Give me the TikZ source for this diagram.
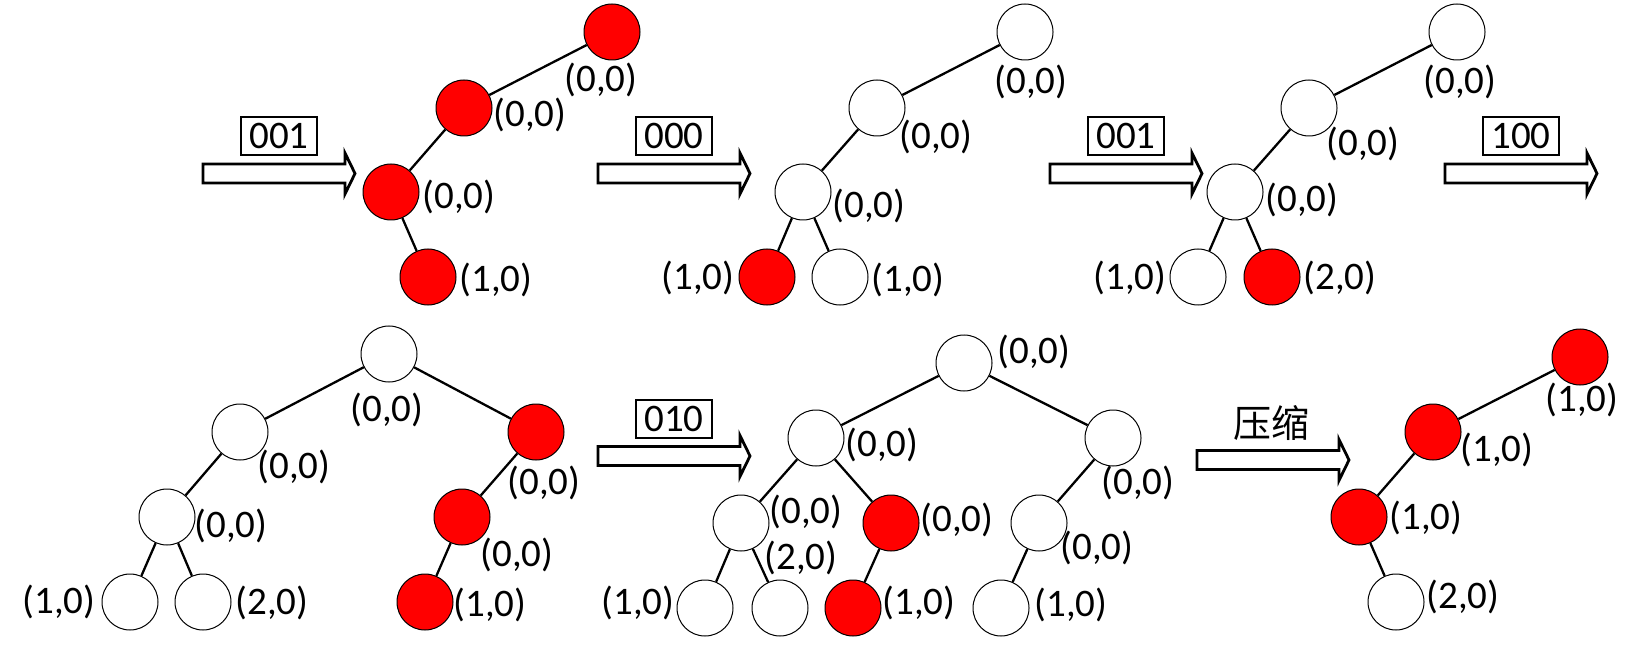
\documentclass[tikz,border=0pt]{standalone}
\usepackage{fontspec}
\setmainfont{Carlito}
\newfontfamily\cjkfont{Noto Sans CJK SC}
\newcommand\fatarrow[2]{%
  \draw[fat] ({#1},{#2-9.5}) -- ++(142,0) -- ++(0,-11) -- ++(10,20.5) -- ++(-10,20.5) -- ++(0,-11) -- ++(-142,0) -- cycle;}
\begin{document}
\begin{tikzpicture}[x=1pt,y=-1pt,
  nd/.style={circle, draw=black, line width=1pt, minimum size=56pt, inner sep=0pt, fill=white},
  rd/.style={nd, fill=red},
  lab/.style={inner sep=0pt, font=\fontsize{39}{42}\selectfont},
  edge/.style={line width=2.3pt},
  codebox/.style={draw, line width=1.4pt, minimum width=76pt, minimum height=38pt, inner sep=0pt, font=\fontsize{39}{42}\selectfont},
  fat/.style={draw, line width=2.8pt, fill=white, line join=miter}]
\useasboundingbox (0,0) rectangle (1646,652);
\fill[white] (0,0) rectangle (1646,652);

% ---------- arrows ----------
\fatarrow{203}{173.5}
\node[codebox] (c1) at (279,136) {001};
\fatarrow{598}{173.5}
\node[codebox] (c2) at (674,136) {000};
\fatarrow{1050}{173.5}
\node[codebox] (c3) at (1126,136) {001};
\fatarrow{1445}{173.5}
\node[codebox] (c4) at (1521,136) {100};
\fatarrow{598}{456}
\node[codebox] (c5) at (674,419) {010};
\fatarrow{1197}{460}
\node[inner sep=0pt, font=\fontsize{38}{40}\selectfont] (c6) at (1271,423) {\cjkfont 压缩};

% ---------- tree 1 ----------
\node[rd] (t1a) at (612,32) {};
\node[rd] (t1b) at (464,108) {};
\node[rd] (t1c) at (391,192) {};
\node[rd] (t1d) at (428,277) {};
\draw[edge] (t1a) -- (t1b); \draw[edge] (t1b) -- (t1c); \draw[edge] (t1c) -- (t1d);
\node[lab] (l1a) at (601,80) {(0,0)};
\node[lab] (l1b) at (530,115) {(0,0)};
\node[lab] (l1c) at (459,197) {(0,0)};
\node[lab] (l1d) at (496,280) {(1,0)};

% ---------- tree 2 ----------
\node[nd] (t2a) at (1025,32) {};
\node[nd] (t2b) at (877,108) {};
\node[nd] (t2c) at (803,192) {};
\node[rd] (t2d) at (767,277) {};
\node[nd] (t2e) at (840,277) {};
\draw[edge] (t2a) -- (t2b); \draw[edge] (t2b) -- (t2c);
\draw[edge] (t2c) -- (t2d); \draw[edge] (t2c) -- (t2e);
\node[lab] (l2a) at (1031,82) {(0,0)};
\node[lab] (l2b) at (936,137) {(0,0)};
\node[lab] (l2c) at (869,206) {(0,0)};
\node[lab] (l2d) at (698,278) {(1,0)};
\node[lab] (l2e) at (908,280) {(1,0)};

% ---------- tree 3 ----------
\node[nd] (t3a) at (1457,32) {};
\node[nd] (t3b) at (1309,108) {};
\node[nd] (t3c) at (1235,192) {};
\node[nd] (t3d) at (1198,277) {};
\node[rd] (t3e) at (1272,277) {};
\draw[edge] (t3a) -- (t3b); \draw[edge] (t3b) -- (t3c);
\draw[edge] (t3c) -- (t3d); \draw[edge] (t3c) -- (t3e);
\node[lab] (l3a) at (1460,82) {(0,0)};
\node[lab] (l3b) at (1363,144) {(0,0)};
\node[lab] (l3c) at (1302,200) {(0,0)};
\node[lab] (l3d) at (1130,278) {(1,0)};
\node[lab] (l3e) at (1340,278) {(2,0)};

% ---------- tree 4 ----------
\node[nd] (t4r) at (389,354) {};
\node[nd] (t4l1) at (240,432) {};
\node[nd] (t4l2) at (167,517) {};
\node[nd] (t4ll) at (130,602) {};
\node[nd] (t4lr) at (203,602) {};
\node[rd] (t4r1) at (536,432) {};
\node[rd] (t4r2) at (462,517) {};
\node[rd] (t4r3) at (425,602) {};
\draw[edge] (t4r) -- (t4l1); \draw[edge] (t4l1) -- (t4l2);
\draw[edge] (t4l2) -- (t4ll); \draw[edge] (t4l2) -- (t4lr);
\draw[edge] (t4r) -- (t4r1); \draw[edge] (t4r1) -- (t4r2); \draw[edge] (t4r2) -- (t4r3);
\node[lab] (l4r) at (387,410) {(0,0)};
\node[lab] (l4l1) at (294,467) {(0,0)};
\node[lab] (l4l2) at (231,526) {(0,0)};
\node[lab] (l4ll) at (59,602) {(1,0)};
\node[lab] (l4lr) at (272,603) {(2,0)};
\node[lab] (l4r1) at (544,483) {(0,0)};
\node[lab] (l4r2) at (517,555) {(0,0)};
\node[lab] (l4r3) at (490,605) {(1,0)};

% ---------- tree 5 ----------
\node[nd] (t5r) at (964,363) {};
\node[nd] (t5l1) at (816,438) {};
\node[nd] (t5r1) at (1113,438) {};
\node[nd] (t5ll) at (741,523) {};
\node[rd] (t5lr) at (891,523) {};
\node[nd] (t5rl) at (1039,523) {};
\node[nd] (t5lll) at (705,608) {};
\node[nd] (t5llr) at (780,608) {};
\node[rd] (t5lrl) at (853,608) {};
\node[nd] (t5rll) at (1001,608) {};
\draw[edge] (t5r) -- (t5l1); \draw[edge] (t5r) -- (t5r1);
\draw[edge] (t5l1) -- (t5ll); \draw[edge] (t5l1) -- (t5lr);
\draw[edge] (t5ll) -- (t5lll); \draw[edge] (t5ll) -- (t5llr);
\draw[edge] (t5lr) -- (t5lrl);
\draw[edge] (t5r1) -- (t5rl); \draw[edge] (t5rl) -- (t5rll);
\node[lab] (l5r) at (1034,352) {(0,0)};
\node[lab] (l5l1) at (882,445) {(0,0)};
\node[lab] (l5r1) at (1138,483) {(0,0)};
\node[lab] (l5ll) at (806,512) {(0,0)};
\node[lab] (l5lr) at (957,520) {(0,0)};
\node[lab] (l5rl) at (1097,548) {(0,0)};
\node[lab] (l5lll) at (638,603) {(1,0)};
\node[lab] (l5llr) at (801,558) {(2,0)};
\node[lab] (l5lrl) at (919,603) {(1,0)};
\node[lab] (l5rll) at (1071,605) {(1,0)};

% ---------- tree 6 ----------
\node[rd] (t6a) at (1580,357) {};
\node[rd] (t6b) at (1433,432) {};
\node[rd] (t6c) at (1359,517) {};
\node[nd] (t6d) at (1396,602) {};
\draw[edge] (t6a) -- (t6b); \draw[edge] (t6b) -- (t6c); \draw[edge] (t6c) -- (t6d);
\node[lab] (l6a) at (1582,400) {(1,0)};
\node[lab] (l6b) at (1497,450) {(1,0)};
\node[lab] (l6c) at (1426,518) {(1,0)};
\node[lab] (l6d) at (1463,597) {(2,0)};
\end{tikzpicture}
\end{document}
